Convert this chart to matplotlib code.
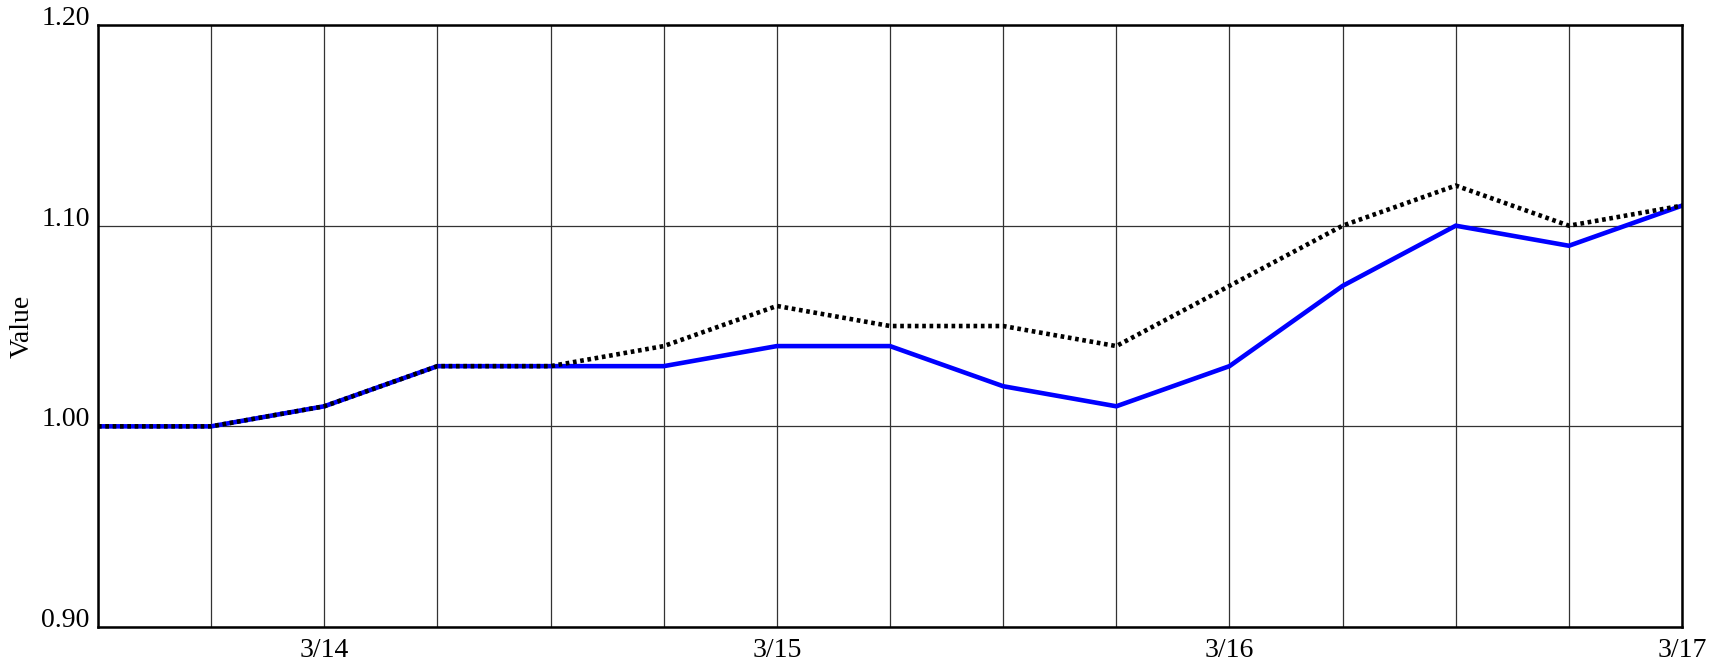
import matplotlib.pyplot as plt

# 6-hour steps starting 3/13 12:00
labels = ['', '', '3/14', '', '', '', '3/15', '', '', '', '3/16', '', '', '', '3/17']
blue = [1.00, 1.00, 1.01, 1.03, 1.03, 1.03, 1.04, 1.04, 1.02, 1.01, 1.03, 1.07, 1.10, 1.09, 1.11]
black = [1.00, 1.00, 1.01, 1.03, 1.03, 1.04, 1.06, 1.05, 1.05, 1.04, 1.07, 1.10, 1.12, 1.10, 1.11]

plt.rcParams['font.family'] = ['Liberation Serif', 'DejaVu Serif']
plt.rcParams['font.size'] = 20

fig = plt.figure(figsize=(17.19, 6.64), dpi=100)
ax = fig.add_axes([0.057, 0.0557, 0.9215, 0.9066])

x = list(range(len(blue)))
ax.plot(x, blue, color='blue', lw=3.3, solid_joinstyle='miter', zorder=3)
ax.plot(x, black, color='black', lw=3.3, linestyle=(0, (0.8, 0.8)), zorder=4)

ax.set_xlim(0, len(blue) - 1)
ax.set_ylim(0.90, 1.20)
ax.set_xticks(x)
ax.set_xticklabels(labels)
ax.set_yticks([0.90, 1.00, 1.10, 1.20])
ax.set_yticklabels(['0.90', '1.00', '1.10', '1.20'])
for t in ax.get_yticklabels():
    t.set_verticalalignment('baseline')
ax.tick_params(length=0)
ax.tick_params(axis='y', pad=6)
ax.tick_params(axis='x', pad=8)
ax.grid(True, color='#333333', lw=0.9)
ax.set_axisbelow(True)
for s in ax.spines.values():
    s.set_linewidth(1.8)
    s.set_color('black')
    s.set_zorder(5)

ax.set_ylabel('Value')
ax.yaxis.set_label_coords(-0.040, 0.5)

plt.savefig('out.png')
